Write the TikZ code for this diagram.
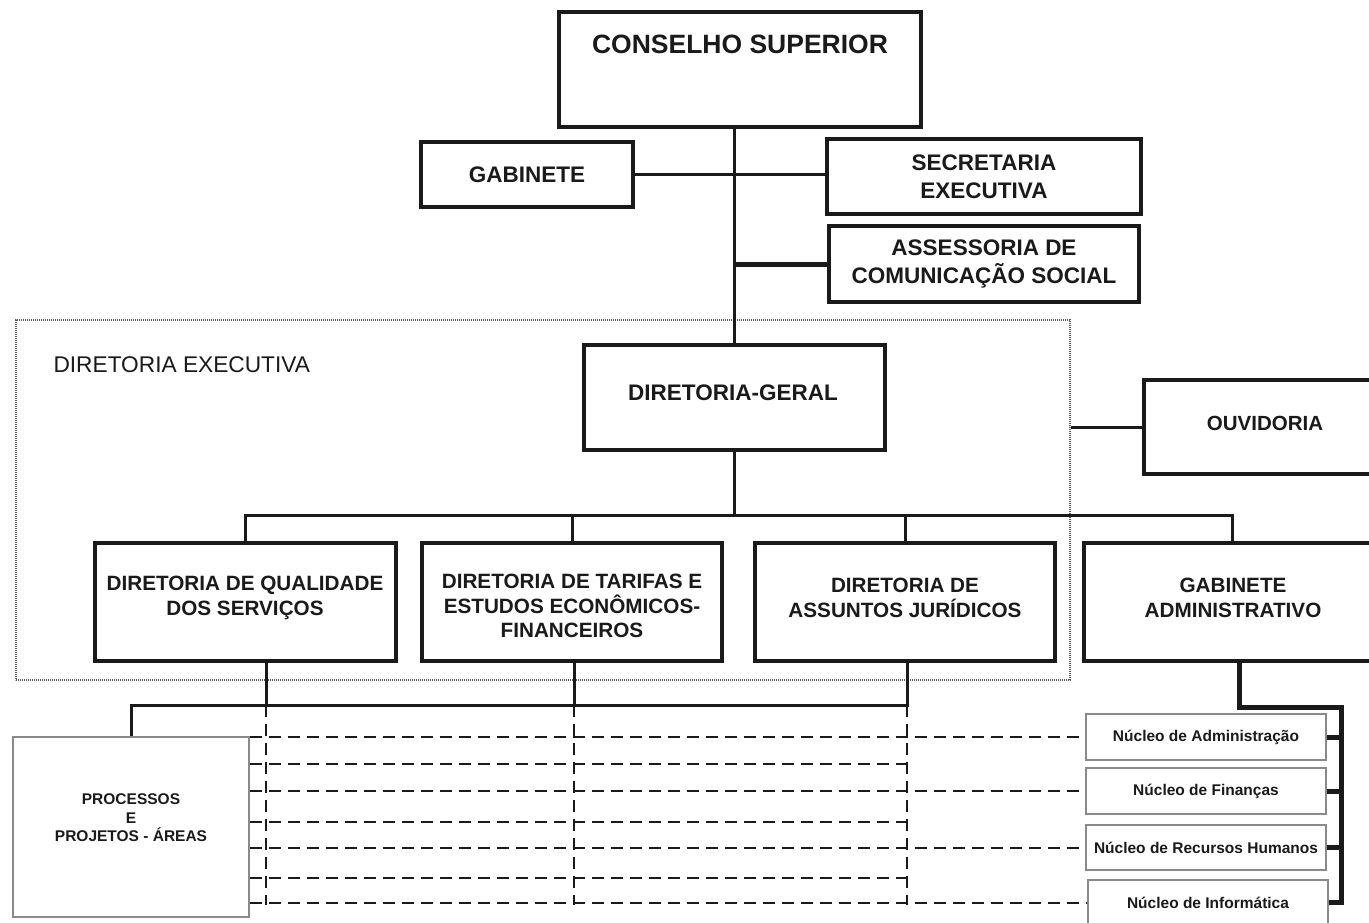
\documentclass[tikz,border=0pt]{standalone}
\usepackage{fontspec}
\setmainfont{Liberation Sans}
\definecolor{ink}{HTML}{1A1A1A}
\definecolor{thin}{HTML}{8A8A8A}
\begin{document}
\begin{tikzpicture}[x=1pt,y=-1pt,
  box/.style={draw=ink, fill=white, line width=3.5pt, inner sep=0pt, align=center, text=ink,
    font=\bfseries\fontsize{22.5}{28}\selectfont},
  lowbox/.style={box, font=\bfseries\fontsize{20.7}{24.5}\selectfont},
  nbox/.style={draw=thin, fill=white, line width=1.8pt, inner sep=0pt, align=center, text=ink,
    font=\bfseries\fontsize{15.5}{18.5}\selectfont},
  boxtext/.style={align=center, text=ink, inner sep=0pt, font=\bfseries\fontsize{22.5}{28}\selectfont},
  lowtext/.style={boxtext, font=\bfseries\fontsize{20.7}{24.5}\selectfont},
  conn/.style={draw=ink, line width=3pt},
  dline/.style={draw=ink, line width=2pt, dash pattern=on 12pt off 7pt},
  bracket/.style={draw=ink, line width=5pt},
  dotbox/.style={draw=gray!70!black, line width=1.3pt, dash pattern=on 1.2pt off 0.8pt}
]
\clip (0,0) rectangle (1369,922);
\fill[white] (0,0) rectangle (1369,922);

% dotted frame
\node[dotbox, minimum width=1054pt, minimum height=360pt, inner sep=0pt] (de) at (543,500) {};
\node[anchor=west, text=ink, font=\fontsize{22.7}{27}\selectfont] (delabel) at (50,365) {DIRETORIA EXECUTIVA};

% boxes
\node[box, minimum width=362pt, minimum height=115pt] (cs) at (740,69.5) {};
\node[text=ink, font=\bfseries\fontsize{26.5}{32}\selectfont] (cst) at (740,44) {CONSELHO SUPERIOR};
\node[box, minimum width=212pt, minimum height=65pt] (gab) at (527,174.5) {GABINETE};
\node[box, minimum width=314pt, minimum height=75pt] (sec) at (984,176.5) {SECRETARIA\\EXECUTIVA};
\node[box, minimum width=310pt, minimum height=76pt] (asc) at (984,264) {ASSESSORIA DE\\COMUNICAÇÃO SOCIAL};
\node[box, minimum width=301pt, minimum height=105pt] (dg) at (734.5,397.5) {};
\node[boxtext] (dgt) at (733,393) {DIRETORIA-GERAL};
\node[box, minimum width=236pt, minimum height=94pt] (ouv) at (1262,427) {};
\node[boxtext, font=\bfseries\fontsize{20.5}{24}\selectfont] (ouvt) at (1265,423) {OUVIDORIA};
\node[lowbox, minimum width=301pt, minimum height=118pt] (d1) at (245.5,602) {};
\node[lowtext] (d1t) at (245,598) {DIRETORIA DE QUALIDADE\\DOS SERVIÇOS};
\node[lowbox, minimum width=300pt, minimum height=118pt] (d2) at (572,602) {};
\node[lowtext] (d2t) at (572,606) {DIRETORIA DE TARIFAS E\\ESTUDOS ECONÔMICOS-\\FINANCEIROS};
\node[lowbox, minimum width=300pt, minimum height=118pt] (d3) at (905,602) {};
\node[lowtext] (d3t) at (905,598) {DIRETORIA DE\\ASSUNTOS JURÍDICOS};
\node[lowbox, minimum width=296pt, minimum height=118pt] (gadm) at (1232,602) {};
\node[lowtext] (gadmt) at (1233,598) {GABINETE\\ADMINISTRATIVO};

\node[nbox, minimum width=236pt, minimum height=180pt] (proc) at (131,827) {};
\node[align=center, text=ink, inner sep=0pt, font=\bfseries\fontsize{15.5}{18.5}\selectfont] (proct) at (131,818) {PROCESSOS\\E\\PROJETOS - ÁREAS};
\node[nbox, minimum width=240pt, minimum height=46pt] (n1) at (1206,737) {Núcleo de Administração};
\node[nbox, minimum width=240pt, minimum height=46pt] (n2) at (1206,791) {Núcleo de Finanças};
\node[nbox, minimum width=240pt, minimum height=45pt] (n3) at (1206,847.5) {Núcleo de Recursos Humanos};
\node[nbox, minimum width=240pt, minimum height=45pt] (n4) at (1208,902.5) {Núcleo de Informática};

% upper connectors
\draw[conn] (dg.north |- cs.south) -- (dg.north);
\draw[conn] (gab.east) -- (gab.east -| sec.west);
\draw[line width=5pt, draw=ink] (asc.west) -- (asc.west -| dg.north);
\draw[conn] (ouv.west) -- (ouv.west -| de.east);

% bus to directorates
\coordinate (bus) at (0,515);
\draw[conn] (dg.south) -- (dg.south |- bus);
\draw[conn] (d1.north) -- (d1.north |- bus) -| (gadm.north);
\draw[conn] (d2.north) -- (d2.north |- bus);
\draw[conn] (d3.north) -- (d3.north |- bus);

% lower bus to processos
\coordinate (j1) at (266,705);
\coordinate (j2) at (574,705);
\coordinate (j3) at (907,705);
\draw[conn] (d1.south -| j1) -- (j1);
\draw[conn] (d2.south -| j2) -- (j2);
\draw[conn] (d3.south -| j3) -- (j3) -| (proc.north);

% dashed grid
\draw[dline] (j1) -- ++(0,200);
\draw[dline] (j2) -- ++(0,200);
\draw[dline] (j3) -- ++(0,200);
\coordinate (h2) at (907,764);
\coordinate (h4) at (907,822);
\coordinate (h6) at (907,878);
\draw[dline] (proc.east |- n1.west) -- (n1.west);
\draw[dline] (h2 -| proc.east) -- (h2);
\draw[dline] (proc.east |- n2.west) -- (n2.west);
\draw[dline] (h4 -| proc.east) -- (h4);
\draw[dline] (proc.east |- n3.west) -- (n3.west);
\draw[dline] (h6 -| proc.east) -- (h6);
\draw[dline] (proc.east |- n4.west) -- (n4.west);

% right bracket
\coordinate (g1) at (1239,707);
\coordinate (bx) at (1341,707);
\draw[bracket] (gadm.south -| g1) -- (g1) -- (bx) -- (bx |- n4.east) -- (n4.east);
\draw[bracket] (n1.east) -- (n1.east -| bx);
\draw[bracket] (n2.east) -- (n2.east -| bx);
\draw[bracket] (n3.east) -- (n3.east -| bx);
\end{tikzpicture}
\end{document}
